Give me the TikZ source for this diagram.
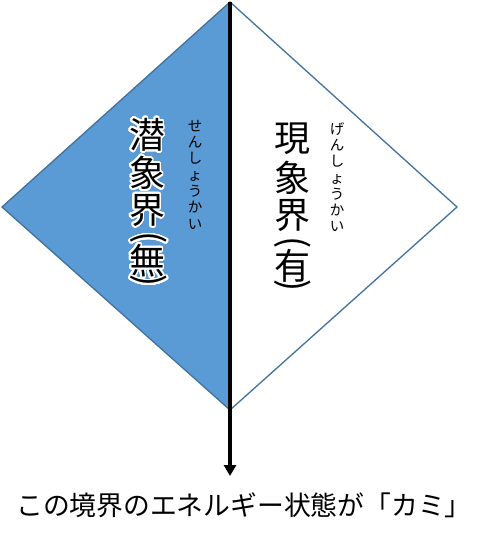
\documentclass[tikz,border=0pt]{standalone}
\usepackage{fontspec}
\setmainfont{Noto Sans CJK JP}
\usepackage{contour}
\contourlength{1.8pt}
\contournumber{32}
\usetikzlibrary{arrows.meta}
\definecolor{kablue}{HTML}{5B9BD5}
\definecolor{kaline}{HTML}{41719C}
\newcommand{\glow}[1]{\contour{white}{#1}}

\begin{document}
\begin{tikzpicture}[x=1pt, y=-1pt, inner sep=0pt,
    kanji/.style={anchor=north, font=\fontsize{36}{38}\selectfont},
    paren/.style={rotate=-90, font=\fontsize{36}{38}\selectfont},
    ruby/.style={align=center, anchor=north, font=\fontsize{14.5}{16.3}\selectfont}]
    \useasboundingbox (0,0) rectangle (487,547);
    \coordinate (t) at (230, 2);
    \coordinate (l) at (2, 207);
    \coordinate (b) at (230, 410);
    \coordinate (r) at (457, 207);
    \coordinate (tip) at (230, 476);
    \fill[kablue] (t) -- (l) -- (b) -- cycle;
    \draw[kaline, line width=1.3pt] (t) -- (l) -- (b) -- (r) -- cycle;
    \foreach \ch/\y [count=\i] in {潜/118, 象/156, 界/194, 無/244}
        \node[kanji] (sen\i) at (147, \y) {\glow{\ch}};
    \node[paren] (senpa) at (148, 238) {\glow{(}};
    \node[paren] (senpb) at (148, 281) {\glow{)}};
    \node[ruby] (senr) at (195, 120) {せ\\ん\\し\\ょ\\う\\か\\い};
    \foreach \ch/\y [count=\i] in {現/123, 象/161, 界/199, 有/249}
        \node[kanji] (gen\i) at (292, \y) {\ch};
    \node[paren] (genpa) at (293, 243) {(};
    \node[paren] (genpb) at (293, 286) {)};
    \node[ruby] (genr) at (337, 122) {げ\\ん\\し\\ょ\\う\\か\\い};
    \draw[line width=3.5pt, -{Triangle[width=12pt,length=11pt]}] (t) -- (tip);
    \node[font=\fontsize{26.8}{29}\selectfont] (state) at (244, 505) {この境界のエネルギー状態が「カミ」};
\end{tikzpicture}
\end{document}
